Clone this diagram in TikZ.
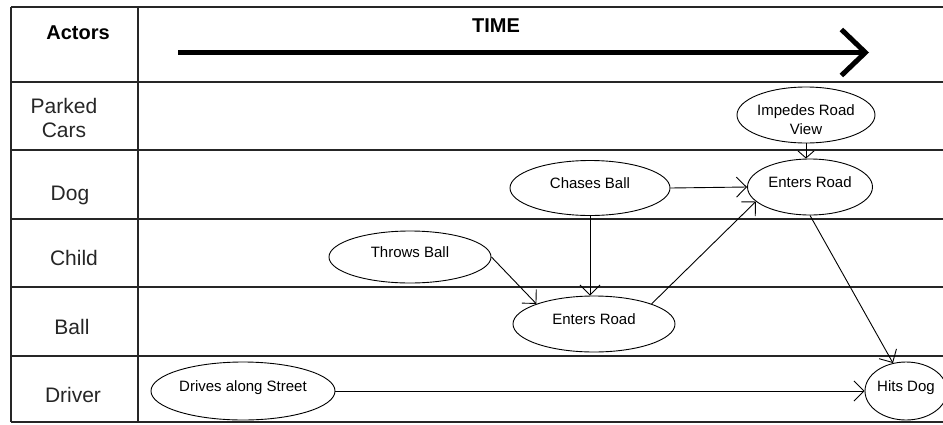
\documentclass[tikz,border=0pt]{standalone}
\usepackage{fontspec}
\setmainfont{Liberation Sans}
\usetikzlibrary{shapes.geometric,arrows.meta}

\tikzset{
  ev/.style={ellipse, draw, line width=0.9pt, inner sep=0pt,
    text height=0pt, text depth=0pt, font=\fontsize{15}{19}\selectfont},
  lane/.style={font=\fontsize{21}{23}\selectfont, anchor=base, inner sep=0pt, text=black!85},
  head/.style={font=\bfseries\fontsize{20}{22}\selectfont, anchor=base, inner sep=0pt},
  grid/.style={line width=1.3pt, draw=black!85},
  flow/.style={line width=0.9pt, -{Straight Barb[length=10pt,width=20pt]}},
  shortflow/.style={line width=0.9pt, -{Straight Barb[length=7pt,width=16pt]}},
}

\begin{document}
\begin{tikzpicture}[x=1pt,y=-1pt]
  \useasboundingbox (0,0) rectangle (943,424);
  \fill[white] (0,0) rectangle (943,424);

  % swimlane grid
  \foreach \yy in {7,82,150,219,287,356,422}
    \draw[grid] (11,\yy) -- (943,\yy);
  \draw[grid] (11,7) -- (11,422);
  \draw[grid] (138,7) -- (138,422);

  % header row
  \node[head] (actors) at (78,39) {Actors};
  \node[head] (time) at (496,32) {TIME};
  \coordinate (t0) at (178,52.5);
  \coordinate (t1) at (869,52.5);
  \draw[line width=5pt, -{Straight Barb[length=24pt,width=46pt]}] (t0) -- (t1);

  % actor names
  \node[lane] (parked) at (64,113) {Parked};
  \node[lane] (cars) at (64,137) {Cars};
  \node[lane] (dog) at (70,200) {Dog};
  \node[lane] (child) at (74,265) {Child};
  \node[lane] (ball) at (72,334) {Ball};
  \node[lane] (driver) at (73,402) {Driver};

  % events
  \node[ev, minimum width=138pt, minimum height=56pt] (imp) at (806,115)
    {\raisebox{-9.9pt}{\begin{tabular}{@{}c@{}}Impedes Road\\View\end{tabular}}};
  \node[ev, minimum width=125pt, minimum height=56pt] (dogER) at (810,187) {Enters Road};
  \node[ev, minimum width=160pt, minimum height=55pt] (chase) at (590,188) {Chases Ball};
  \node[ev, minimum width=162pt, minimum height=52pt] (throw) at (410,257) {Throws Ball};
  \node[ev, minimum width=162pt, minimum height=56pt] (ballER) at (594,324) {Enters Road};
  \node[ev, minimum width=184pt, minimum height=58pt] (drive) at (243,391) {Drives along Street};
  \node[ev, minimum width=82pt, minimum height=58pt] (hits) at (906,391) {Hits Dog};

  % causal links
  \draw[shortflow] (imp.south) -- (imp.south |- dogER.north);
  \draw[flow] (chase.east) -- (dogER.west);
  \draw[flow] (chase.south) -- (chase.south |- ballER.north);
  \draw[flow] (throw.east) -- (ballER.north west);
  \draw[flow] (ballER.north east) -- (dogER.195);
  \draw[flow] (dogER.south) -- (hits.115);
  \draw[flow] (drive.east) -- (hits.west);
\end{tikzpicture}
\end{document}
